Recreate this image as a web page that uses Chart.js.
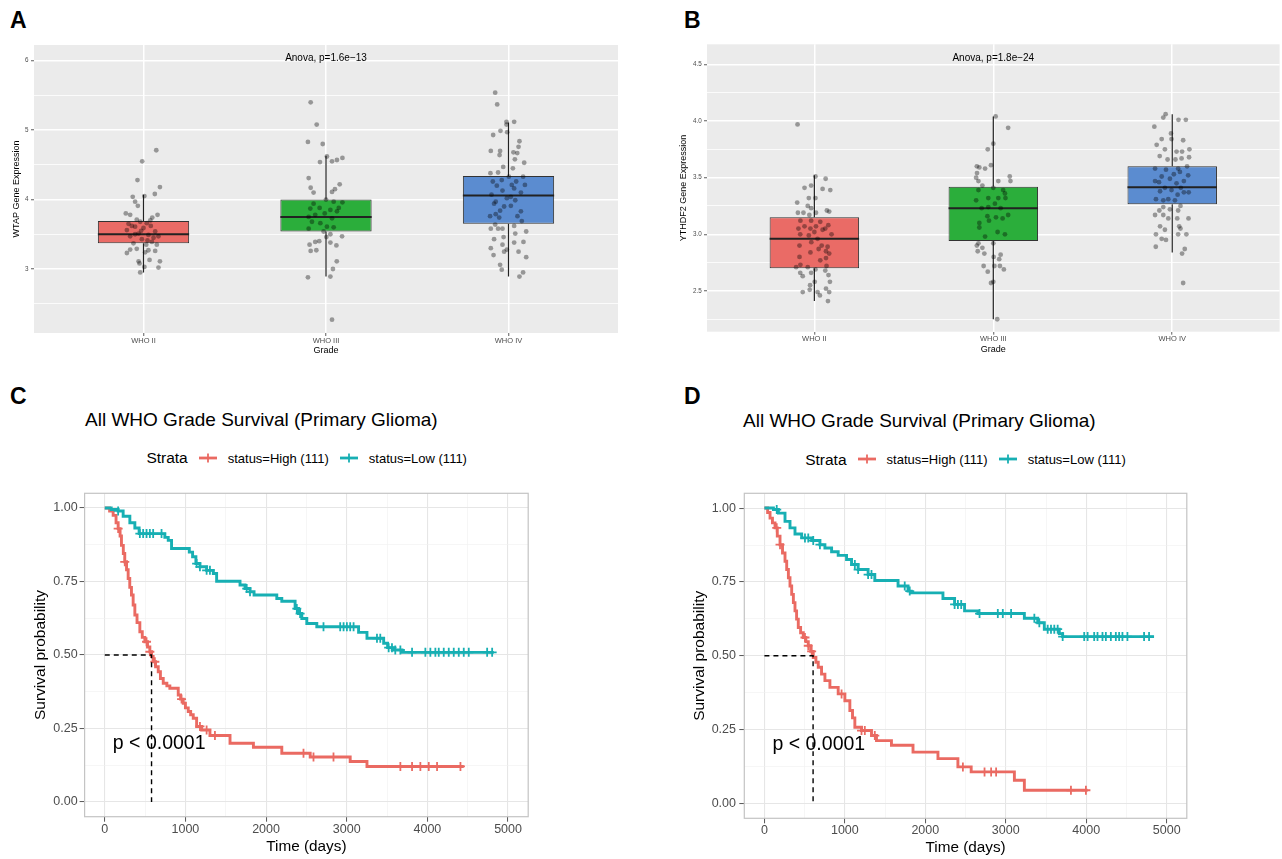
<!DOCTYPE html>
<html>
<head>
<meta charset="utf-8">
<title>WTAP / YTHDF2 expression and survival</title>
<script src="https://cdn.jsdelivr.net/npm/chart.js@4.4.1/dist/chart.umd.min.js"></script>
<style>
  body { margin: 0; width: 1282px; height: 859px; position: relative; background: #fff; overflow: hidden;
         font-family: "Liberation Sans", Arial, sans-serif; }
  canvas { position: absolute; }
  .txt { position: absolute; white-space: nowrap; line-height: 1; color: #000; }
  .letter { font-size: 23px; font-weight: bold; }
  .title { font-size: 19px; }
  .strata { font-size: 15.5px; }
  .item { font-size: 13px; }
  .key { position: absolute; }
</style>
</head>
<body>
<div class="txt letter" style="left:10px;top:9px">A</div>
<div class="txt letter" style="left:684px;top:9px">B</div>
<div class="txt letter" style="left:10px;top:385px">C</div>
<div class="txt letter" style="left:684px;top:385px">D</div>

<div class="txt title" style="left:85px;top:409.6px">All WHO Grade Survival (Primary Glioma)</div>
<div class="txt title" style="left:743px;top:410.9px">All WHO Grade Survival (Primary Glioma)</div>

<!-- legend C -->
<div class="txt strata" style="left:146.4px;top:450.2px">Strata</div>
<svg class="key" style="left:199px;top:452.7px" width="18" height="10"><line x1="0" y1="5" x2="18" y2="5" stroke="#EA6A62" stroke-width="2.8"/><line x1="9" y1="0.5" x2="9" y2="9.5" stroke="#EA6A62" stroke-width="1.8"/></svg>
<div class="txt item" style="left:227.7px;top:451.5px">status=High (111)</div>
<svg class="key" style="left:340px;top:452.7px" width="18" height="10"><line x1="0" y1="5" x2="18" y2="5" stroke="#17AFB3" stroke-width="2.8"/><line x1="9" y1="0.5" x2="9" y2="9.5" stroke="#17AFB3" stroke-width="1.8"/></svg>
<div class="txt item" style="left:368.8px;top:451.5px">status=Low (111)</div>

<!-- legend D -->
<div class="txt strata" style="left:805.2px;top:451.5px">Strata</div>
<svg class="key" style="left:857.5px;top:454px" width="18" height="10"><line x1="0" y1="5" x2="18" y2="5" stroke="#EA6A62" stroke-width="2.8"/><line x1="9" y1="0.5" x2="9" y2="9.5" stroke="#EA6A62" stroke-width="1.8"/></svg>
<div class="txt item" style="left:886.6px;top:452.8px">status=High (111)</div>
<svg class="key" style="left:998.5px;top:454px" width="18" height="10"><line x1="0" y1="5" x2="18" y2="5" stroke="#17AFB3" stroke-width="2.8"/><line x1="9" y1="0.5" x2="9" y2="9.5" stroke="#17AFB3" stroke-width="1.8"/></svg>
<div class="txt item" style="left:1027.7px;top:452.8px">status=Low (111)</div>

<canvas id="chart-a" width="641" height="380" style="left:0;top:0"></canvas>
<canvas id="chart-b" width="641" height="380" style="left:641px;top:0"></canvas>
<canvas id="chart-c" width="641" height="479" style="left:0;top:380px"></canvas>
<canvas id="chart-d" width="641" height="479" style="left:641px;top:380px"></canvas>

<script>
Chart.defaults.font.family = '"Liberation Sans", Arial, sans-serif'
Chart.defaults.animation = false

// Shared categories and colours
const grades = ["WHO II", "WHO III", "WHO IV"]
const boxColors = ["#EA6B66", "#2BAE3B", "#5B8CD0"]
const highColor = "#EA6A62"
const lowColor = "#17AFB3"

// Panel A: WTAP expression by grade
const wtapTicks = [3, 4, 5, 6]
const wtapMinor = [2.5, 3.5, 4.5, 5.5]
const wtapQ1 = [3.37, 3.54, 3.65]
const wtapMedian = [3.50, 3.75, 4.06]
const wtapQ3 = [3.69, 4.00, 4.34]
const wtapLow = [2.95, 2.89, 2.89]
const wtapHigh = [4.07, 4.63, 5.11]
const wtapAnova = "Anova, p=1.6e\u221213"
const wtapII = [4.71, 4.55, 4.28, 4.18, 4.05, 4.04, 4.08, 3.97, 3.91, 3.80, 3.78, 3.78, 3.74, 3.71, 3.68, 3.66, 3.65, 3.62, 3.61, 3.59, 3.56, 3.54, 3.51, 3.49, 3.47, 3.47, 3.43, 3.39, 3.37, 3.35, 3.35, 3.28, 3.29, 3.27, 3.26, 3.23, 3.24, 3.11, 3.08, 3.13, 3.11, 3.03, 3.02, 2.95, 3.62, 3.45, 3.55, 3.41, 3.50, 3.70]
const wtapIIJit = [0.07, -0.007, -0.033, 0.09, 0.005, -0.059, 0.062, -0.046, -0.031, -0.097, -0.073, 0.077, 0.048, -0.037, -0.018, 0.018, -0.082, 0.04, -0.046, 0, -0.091, 0.064, -0.027, 0.027, -0.073, 0.082, -0.009, 0.046, -0.055, 0.015, 0.073, -0.073, -0.037, 0.027, 0.064, -0.091, 0.009, -0.027, -0.022, 0.033, 0.09, 0.005, 0.082, -0.018, -0.064, 0.055, -0.013, 0.022, -0.046, 0.037]
const wtapIII = [5.40, 5.08, 4.83, 4.80, 4.62, 4.54, 4.55, 4.57, 4.60, 4.31, 4.17, 4.10, 4.22, 4.15, 4.11, 4.00, 3.97, 3.96, 3.94, 3.88, 3.87, 3.85, 3.88, 3.83, 3.80, 3.78, 3.75, 3.73, 3.66, 3.68, 3.61, 3.58, 3.60, 3.54, 3.50, 3.46, 3.47, 3.40, 3.38, 3.39, 3.35, 3.34, 3.26, 3.27, 3.11, 3.00, 2.88, 2.89, 2.27]
const wtapIIIJit = [-0.084, -0.051, -0.099, -0.018, 0.005, -0.033, 0.033, 0.06, 0.09, -0.095, -0.084, -0.068, 0.075, 0.049, 0.033, 0, 0.042, 0.09, -0.068, -0.035, -0.086, 0.024, 0.07, 0.06, -0.007, -0.059, -0.095, 0.033, -0.031, -0.077, 0.005, -0.095, 0.042, -0.013, 0.024, 0.002, 0.088, -0.037, 0.024, -0.059, -0.09, 0.057, -0.084, -0.053, 0.059, 0.038, -0.099, 0.024, 0.033]
const wtapIV = [5.54, 5.37, 5.12, 5.12, 5.08, 4.99, 4.97, 4.93, 4.84, 4.76, 4.70, 4.70, 4.68, 4.67, 4.64, 4.58, 4.53, 4.47, 4.45, 4.38, 4.39, 4.33, 4.33, 4.26, 4.28, 4.26, 4.21, 4.21, 4.20, 4.16, 4.13, 4.07, 4.04, 4.10, 4.02, 3.97, 3.99, 3.94, 3.90, 3.91, 3.84, 3.83, 3.79, 3.76, 3.74, 3.76, 3.69, 3.62, 3.64, 3.58, 3.58, 3.54, 3.58, 3.51, 3.46, 3.43, 3.39, 3.38, 3.35, 3.30, 3.28, 3.25, 3.25, 3.20, 3.17, 3.06, 2.99, 2.95, 2.89]
const wtapIVJit = [-0.073, -0.062, -0.011, 0.031, -0.011, -0.044, -0.007, -0.084, 0.06, 0.055, -0.097, -0.046, 0.027, 0.048, -0.049, 0.035, 0.086, -0.029, 0.024, -0.099, -0.057, 0.002, 0.08, -0.086, -0.037, 0.042, 0.018, 0.09, -0.064, 0.031, -0.033, -0.093, 0.013, 0.068, -0.009, -0.07, 0.037, -0.079, -0.024, 0.013, -0.046, 0.068, -0.07, -0.101, -0.051, 0.049, 0.073, 0.031, -0.073, -0.097, -0.033, 0.097, -0.057, 0.037, -0.027, -0.079, 0.082, 0.031, -0.033, -0.097, -0.009, 0.055, -0.024, -0.082, 0.097, -0.046, -0.037, 0.08, 0.06]

// Panel B: YTHDF2 expression by grade
const ythTicks = [2.5, 3.0, 3.5, 4.0, 4.5]
const ythMinor = [2.25, 2.75, 3.25, 3.75, 4.25]
const ythQ1 = [2.70, 2.94, 3.265]
const ythMedian = [2.96, 3.23, 3.415]
const ythQ3 = [3.15, 3.42, 3.60]
const ythLow = [2.41, 2.25, 2.84]
const ythHigh = [3.52, 4.04, 4.06]
const ythAnova = "Anova, p=1.8e\u221224"
const ythII = [3.97, 3.51, 3.49, 3.41, 3.43, 3.40, 3.39, 3.32, 3.32, 3.28, 3.25, 3.23, 3.21, 3.20, 3.19, 3.19, 3.17, 3.19, 3.12, 3.12, 3.11, 3.07, 3.08, 3.07, 3.05, 3.05, 3.05, 3.02, 3.04, 3.00, 3.00, 2.99, 2.96, 2.93, 2.90, 2.90, 2.89, 2.87, 2.85, 2.83, 2.84, 2.80, 2.79, 2.77, 2.73, 2.71, 2.69, 2.72, 2.71, 2.66, 2.63, 2.66, 2.68, 2.64, 2.58, 2.58, 2.55, 2.52, 2.49, 2.49, 2.51, 2.49, 2.46, 2.41]
const ythIIJit = [-0.094, 0.006, 0.063, -0.055, -0.018, 0.046, 0.089, -0.031, 0.006, -0.096, -0.037, -0.018, 0.07, 0.083, -0.092, -0.061, -0.028, 0.009, -0.078, -0.018, 0.033, 0.009, 0.078, -0.055, -0.089, -0.022, 0.061, 0, 0.046, 0.096, -0.079, -0.031, 0.018, -0.017, -0.083, 0.041, 0.074, 0.024, 0.065, 0.083, -0.022, -0.083, 0.065, 0.033, -0.078, -0.037, 0.006, 0.068, -0.102, -0.079, -0.065, -0.018, 0.061, 0.079, 0.002, 0.087, -0.024, 0.065, 0.018, -0.065, -0.026, 0.083, 0.031, 0.076]
const ythIII = [4.04, 3.94, 3.80, 3.75, 3.61, 3.60, 3.58, 3.59, 3.54, 3.50, 3.47, 3.51, 3.47, 3.47, 3.43, 3.41, 3.39, 3.39, 3.36, 3.32, 3.32, 3.32, 3.30, 3.27, 3.24, 3.23, 3.23, 3.17, 3.14, 3.16, 3.15, 3.10, 3.12, 3.02, 3.06, 2.98, 3.00, 2.92, 2.92, 2.90, 2.88, 2.80, 2.82, 2.78, 2.85, 2.83, 2.72, 2.72, 2.72, 2.69, 2.67, 2.58, 2.57, 2.25]
const ythIIIJit = [0.013, 0.083, 0, -0.031, -0.013, -0.092, -0.046, -0.078, -0.091, -0.096, 0.028, 0.092, 0.096, -0.083, -0.061, 0, -0.083, 0.055, 0.065, -0.028, 0.028, 0.068, -0.096, 0.009, -0.028, -0.065, 0.041, 0.083, 0.052, -0.033, 0.015, -0.078, -0.024, 0.024, -0.078, -0.046, 0.065, -0.083, 0, -0.092, -0.061, 0.002, 0.041, 0.033, -0.087, -0.05, 0.037, 0.006, -0.054, 0.059, -0.031, 0, -0.013, 0.022]
const ythIV = [4.06, 4.03, 4.01, 4.01, 3.95, 3.89, 3.84, 3.84, 3.83, 3.79, 3.75, 3.73, 3.73, 3.75, 3.69, 3.66, 3.66, 3.67, 3.68, 3.57, 3.58, 3.58, 3.60, 3.53, 3.55, 3.51, 3.52, 3.49, 3.46, 3.45, 3.47, 3.47, 3.41, 3.41, 3.39, 3.38, 3.37, 3.37, 3.35, 3.31, 3.31, 3.30, 3.30, 3.25, 3.24, 3.21, 3.22, 3.21, 3.17, 3.17, 3.14, 3.14, 3.14, 3.07, 3.07, 3.05, 3.04, 3.00, 3.00, 3.00, 2.96, 2.95, 2.89, 2.87, 2.83, 2.57]
const ythIVJit = [-0.037, -0.05, 0.035, 0.076, -0.1, -0.007, -0.059, -0.004, 0.061, -0.087, -0.041, 0.024, 0.055, 0.096, -0.07, -0.026, 0.018, 0.052, 0.094, -0.035, 0.033, -0.096, 0.083, 0.009, 0.043, -0.059, 0.089, -0.013, -0.074, 0.024, -0.096, 0.065, 0.048, -0.041, -0.004, -0.068, 0.065, 0.092, 0.03, -0.091, -0.022, -0.05, 0.015, 0.046, -0.05, -0.072, -0.013, 0.033, -0.05, -0.096, -0.022, 0.028, 0.091, 0.039, -0.068, 0.046, -0.041, -0.091, 0.079, 0.033, -0.059, -0.035, -0.092, 0.07, 0.055, 0.061]

// Survival panels: axis ticks
const timeTicks = [0, 1000, 2000, 3000, 4000, 5000]
const timeMinor = [500, 1500, 2500, 3500, 4500]
const survTicks = [0, 0.25, 0.5, 0.75, 1]
const survMinor = [0.125, 0.375, 0.625, 0.875]
const pLabel = "p < 0.0001"

// Panel C: Kaplan-Meier steps (time in days, survival after the step)
const cHighTime = [0, 60, 104, 140, 166, 190, 207, 230, 248, 270, 290, 310, 331, 352, 373, 400, 435, 465, 497, 530, 559, 580, 600, 630, 663, 690, 725, 770, 807, 911, 940, 973, 1000, 1035, 1065, 1097, 1139, 1201, 1304, 1553, 1843, 2195, 2547, 3043, 3251, 4451]
const cHighSurv = [1, 0.99, 0.975, 0.95, 0.93, 0.905, 0.873, 0.845, 0.817, 0.79, 0.76, 0.73, 0.704, 0.67, 0.636, 0.61, 0.579, 0.56, 0.545, 0.527, 0.511, 0.495, 0.477, 0.46, 0.443, 0.42, 0.404, 0.395, 0.387, 0.364, 0.35, 0.336, 0.32, 0.308, 0.297, 0.285, 0.257, 0.245, 0.226, 0.2, 0.186, 0.166, 0.153, 0.138, 0.121, 0.121]
const cHighCensor = [166, 248, 518, 559, 621, 952, 1180, 1263, 1366, 2464, 2588, 2836, 3665, 3810, 3913, 4017, 4120, 4410]
const cLowTime = [0, 80, 166, 228, 311, 373, 426, 745, 787, 828, 1048, 1089, 1130, 1180, 1263, 1346, 1387, 1677, 1739, 1801, 1851, 2133, 2195, 2360, 2402, 2443, 2505, 2629, 3147, 3251, 3458, 3507, 3582, 3685, 4824]
const cLowSurv = [1, 0.995, 0.99, 0.972, 0.95, 0.932, 0.913, 0.9, 0.89, 0.862, 0.85, 0.834, 0.811, 0.8, 0.788, 0.777, 0.751, 0.738, 0.726, 0.715, 0.704, 0.692, 0.683, 0.658, 0.641, 0.624, 0.607, 0.596, 0.577, 0.557, 0.54, 0.525, 0.517, 0.509, 0.509]
const cLowCensor = [166, 435, 476, 518, 559, 600, 704, 1139, 1180, 1263, 1304, 1760, 1801, 2381, 2422, 2712, 2919, 2961, 3002, 3043, 3085, 3375, 3416, 3520, 3561, 3602, 3665, 3810, 3975, 4037, 4099, 4141, 4203, 4265, 4327, 4389, 4451, 4513, 4741, 4803]
const cMedianDays = 580

// Panel D
const dHighTime = [0, 40, 70, 100, 132, 160, 194, 225, 256, 277, 298, 318, 339, 360, 380, 400, 421, 450, 483, 515, 545, 575, 607, 640, 669, 710, 752, 814, 917, 1000, 1062, 1095, 1124, 1207, 1331, 1393, 1579, 1847, 2157, 2405, 2570, 3107, 3231, 4017]
const dHighSurv = [1, 0.985, 0.966, 0.95, 0.933, 0.905, 0.876, 0.848, 0.82, 0.792, 0.764, 0.736, 0.708, 0.68, 0.652, 0.624, 0.596, 0.578, 0.562, 0.548, 0.534, 0.515, 0.494, 0.478, 0.461, 0.438, 0.416, 0.393, 0.371, 0.348, 0.315, 0.29, 0.258, 0.247, 0.23, 0.213, 0.197, 0.174, 0.152, 0.124, 0.107, 0.079, 0.045, 0.045]
const dHighCensor = [153, 194, 504, 545, 587, 959, 1207, 1248, 1372, 2467, 2736, 2818, 2880, 3810, 3996]
const dLowTime = [0, 112, 174, 256, 318, 380, 463, 587, 690, 752, 835, 917, 1021, 1083, 1165, 1289, 1372, 1661, 1785, 1826, 2219, 2364, 2488, 2653, 3231, 3397, 3479, 3665, 3707, 4843]
const dLowSurv = [1, 0.995, 0.983, 0.955, 0.933, 0.912, 0.899, 0.89, 0.876, 0.865, 0.852, 0.84, 0.826, 0.809, 0.792, 0.775, 0.755, 0.736, 0.719, 0.713, 0.694, 0.674, 0.652, 0.643, 0.627, 0.612, 0.59, 0.575, 0.565, 0.565]
const dLowCensor = [153, 504, 545, 607, 690, 1124, 1165, 1289, 1331, 1744, 1806, 2364, 2405, 2446, 2674, 2901, 2963, 3066, 3355, 3417, 3521, 3562, 3603, 3645, 3707, 3975, 4017, 4099, 4140, 4202, 4244, 4306, 4368, 4409, 4450, 4512, 4719, 4781]
const dMedianDays = 605

// Plugins
const panelBg = {
  id: "panelBg",
  beforeDraw(chart, args, opts) {
    const { ctx, chartArea: a } = chart
    ctx.save()
    ctx.fillStyle = opts.color
    ctx.fillRect(a.left, a.top, a.width, a.height)
    ctx.restore()
  },
}

const panelBorder = {
  id: "panelBorder",
  afterDatasetsDraw(chart, args, opts) {
    const { ctx, chartArea: a } = chart
    ctx.save()
    ctx.strokeStyle = opts.color
    ctx.lineWidth = 1.2
    ctx.strokeRect(a.left, a.top, a.width, a.height)
    ctx.restore()
  },
}

// whiskers and medians, drawn right after the boxes (dataset 0)
const boxExtras = {
  id: "boxExtras",
  afterDatasetDraw(chart, args, opts) {
    if (args.index !== 0) return
    const { ctx } = chart
    const y = chart.scales.y
    ctx.save()
    ctx.strokeStyle = "#222222"
    args.meta.data.forEach((bar, i) => {
      ctx.lineWidth = 1.2
      ctx.beginPath()
      ctx.moveTo(bar.x, y.getPixelForValue(opts.high[i]))
      ctx.lineTo(bar.x, y.getPixelForValue(opts.q3[i]))
      ctx.moveTo(bar.x, y.getPixelForValue(opts.q1[i]))
      ctx.lineTo(bar.x, y.getPixelForValue(opts.low[i]))
      ctx.stroke()
      const my = y.getPixelForValue(opts.median[i])
      ctx.lineWidth = 2
      ctx.beginPath()
      ctx.moveTo(bar.x - bar.width / 2, my)
      ctx.lineTo(bar.x + bar.width / 2, my)
      ctx.stroke()
    })
    ctx.restore()
  },
}

const noteText = {
  id: "noteText",
  afterDatasetsDraw(chart, args, opts) {
    const { ctx } = chart
    ctx.save()
    ctx.font = opts.font
    ctx.fillStyle = "#000000"
    ctx.textAlign = opts.align
    ctx.textBaseline = "middle"
    ctx.fillText(opts.text, chart.scales.x.getPixelForValue(opts.x), chart.scales.y.getPixelForValue(opts.y))
    ctx.restore()
  },
}

const fontFamily = '"Liberation Sans", Arial, sans-serif'

// Box plot with jittered points
function initBoxChart(id, d) {
  const isMajor = (v) => d.ticks.includes(v)
  const points = d.values.flatMap((vals, g) => vals.map((v, i) => ({ x: g + 1 + d.jitter[g][i], y: v })))

  return new Chart(document.getElementById(id), {
    type: "scatter",
    data: {
      datasets: [
        {
          type: "bar",
          data: grades.map((g, i) => ({ x: i + 1, y: [d.q1[i], d.q3[i]] })),
          backgroundColor: boxColors,
          borderColor: "#333333",
          borderWidth: 1,
          borderSkipped: false,
          categoryPercentage: 1,
          barPercentage: 0.5,
          order: 2,
        },
        {
          data: points,
          pointRadius: 2.4,
          pointHoverRadius: 2.4,
          pointBackgroundColor: "rgba(0,0,0,0.36)",
          pointBorderWidth: 0,
          order: 1,
        },
      ],
    },
    options: {
      responsive: false,
      animation: false,
      layout: { padding: d.padding },
      plugins: {
        legend: { display: false },
        tooltip: { enabled: false },
        panelBg: { color: "#EBEBEB" },
        boxExtras: { q1: d.q1, median: d.median, q3: d.q3, low: d.low, high: d.high },
        noteText: { text: d.note, x: 2, y: d.noteY, font: "10px " + fontFamily, align: "center" },
      },
      scales: {
        x: {
          type: "linear",
          min: 0.4,
          max: 3.6,
          bounds: "data",
          offset: false,
          afterBuildTicks: (s) => { s.ticks = grades.map((g, i) => ({ value: i + 1 })) },
          afterFit: (s) => { s.height = d.xAxisH },
          grid: { offset: false, color: "#FFFFFF", lineWidth: 1.5, tickColor: "#333333", tickLength: 3, tickWidth: 0.8 },
          border: { display: false },
          ticks: { autoSkip: false, maxRotation: 0, padding: 0, color: "#4D4D4D", font: { size: 7.5 }, callback: (v) => grades[v - 1] },
          title: { display: true, text: "Grade", color: "#000000", font: { size: 9 }, padding: { top: 0, bottom: d.xTitlePad } },
        },
        y: {
          type: "linear",
          min: d.min,
          max: d.max,
          bounds: "data",
          afterBuildTicks: (s) => { s.ticks = [...d.minor, ...d.ticks].sort((a, b) => a - b).map((v) => ({ value: v })) },
          afterFit: (s) => { s.width = d.yAxisW },
          grid: {
            color: "#FFFFFF",
            lineWidth: (c) => (c.tick && isMajor(c.tick.value) ? 1.5 : 0.8),
            tickColor: (c) => (c.tick && isMajor(c.tick.value) ? "#333333" : "rgba(0,0,0,0)"),
            tickLength: 3,
            tickWidth: 0.8,
          },
          border: { display: false },
          ticks: { autoSkip: false, padding: d.yTickPad, color: "#4D4D4D", font: { size: 6.3 }, callback: (v) => (isMajor(v) ? d.tickFmt(v) : "") },
          title: { display: true, text: d.yTitle, color: "#000000", font: { size: 9 }, padding: { top: d.yTitlePad, bottom: 0 } },
        },
      },
    },
    plugins: [panelBg, boxExtras, noteText],
  })
}

// Kaplan-Meier plot
function initSurvChart(id, d) {
  const isMajorT = (v) => timeTicks.includes(v)
  const isMajorS = (v) => survTicks.includes(v)
  const stepAt = (t, times, surv) => {
    let s = surv[0]
    times.forEach((v, i) => { if (v <= t) s = surv[i] })
    return s
  }
  const curve = (times, surv, color) => ({
    data: times.map((t, i) => ({ x: t, y: surv[i] })),
    showLine: true,
    stepped: "before",
    borderColor: color,
    borderWidth: 2.9,
    pointRadius: 0,
    pointHoverRadius: 0,
    order: 3,
  })
  const marks = (cens, times, surv, color) => ({
    data: cens.map((t) => ({ x: t, y: stepAt(t, times, surv) })),
    pointStyle: "cross",
    pointRadius: 4.5,
    pointHoverRadius: 4.5,
    pointBorderWidth: 1.8,
    pointBorderColor: color,
    order: 2,
  })

  return new Chart(document.getElementById(id), {
    type: "scatter",
    data: {
      datasets: [
        {
          data: [{ x: 0, y: 0.5 }, { x: d.median, y: 0.5 }, { x: d.median, y: 0 }],
          showLine: true,
          borderColor: "#000000",
          borderWidth: 1.4,
          borderDash: [5, 4],
          pointRadius: 0,
          pointHoverRadius: 0,
          order: 1,
        },
        marks(d.lowCensor, d.lowTime, d.lowSurv, lowColor),
        marks(d.highCensor, d.highTime, d.highSurv, highColor),
        curve(d.lowTime, d.lowSurv, lowColor),
        curve(d.highTime, d.highSurv, highColor),
      ],
    },
    options: {
      responsive: false,
      animation: false,
      layout: { padding: d.padding },
      plugins: {
        legend: { display: false },
        tooltip: { enabled: false },
        panelBorder: { color: "#C4C4C4" },
        noteText: { text: pLabel, x: 100, y: 0.2, font: "19.5px " + fontFamily, align: "left" },
      },
      scales: {
        x: {
          type: "linear",
          min: -250,
          max: 5250,
          bounds: "data",
          afterBuildTicks: (s) => { s.ticks = [...timeTicks, ...timeMinor].sort((a, b) => a - b).map((v) => ({ value: v })) },
          afterFit: (s) => { s.height = d.xAxisH },
          grid: {
            color: (c) => (c.tick && isMajorT(c.tick.value) ? "#E6E6E6" : "#F0F0F0"),
            lineWidth: (c) => (c.tick && isMajorT(c.tick.value) ? 1.1 : 0.6),
            tickColor: (c) => (c.tick && isMajorT(c.tick.value) ? "#555555" : "rgba(0,0,0,0)"),
            tickLength: 5,
            tickWidth: 1,
          },
          border: { display: false },
          ticks: { autoSkip: false, maxRotation: 0, padding: 0, color: "#4D4D4D", font: { size: 12.5 }, callback: (v) => (isMajorT(v) ? String(v) : "") },
          title: { display: true, text: "Time (days)", color: "#000000", font: { size: 15.3 }, padding: { top: 0, bottom: d.xTitlePad } },
        },
        y: {
          type: "linear",
          min: -0.05,
          max: 1.05,
          bounds: "data",
          afterBuildTicks: (s) => { s.ticks = [...survTicks, ...survMinor].sort((a, b) => a - b).map((v) => ({ value: v })) },
          afterFit: (s) => { s.width = d.yAxisW },
          grid: {
            color: (c) => (c.tick && isMajorS(c.tick.value) ? "#E6E6E6" : "#F0F0F0"),
            lineWidth: (c) => (c.tick && isMajorS(c.tick.value) ? 1.1 : 0.6),
            tickColor: (c) => (c.tick && isMajorS(c.tick.value) ? "#555555" : "rgba(0,0,0,0)"),
            tickLength: 5,
            tickWidth: 1,
          },
          border: { display: false },
          ticks: { autoSkip: false, padding: d.yTickPad, color: "#4D4D4D", font: { size: 12.5 }, callback: (v) => (isMajorS(v) ? v.toFixed(2) : "") },
          title: { display: true, text: "Survival probability", color: "#000000", font: { size: 15.5 }, padding: { top: d.yTitlePad, bottom: 0 } },
        },
      },
    },
    plugins: [panelBorder, noteText],
  })
}

initBoxChart("chart-a", {
  q1: wtapQ1, median: wtapMedian, q3: wtapQ3, low: wtapLow, high: wtapHigh,
  values: [wtapII, wtapIII, wtapIV],
  jitter: [wtapIIJit, wtapIIIJit, wtapIVJit],
  ticks: wtapTicks, minor: wtapMinor, tickFmt: (v) => String(v),
  min: 2.078, max: 6.226,
  note: wtapAnova, noteY: 6.03,
  yTitle: "WTAP Gene Expression",
  padding: { left: 0, top: 45, right: 23, bottom: 0 },
  yAxisW: 34, xAxisH: 47, yTickPad: 2.5, yTitlePad: 11, xTitlePad: 23.6,
})

initBoxChart("chart-b", {
  q1: ythQ1, median: ythMedian, q3: ythQ3, low: ythLow, high: ythHigh,
  values: [ythII, ythIII, ythIV],
  jitter: [ythIIJit, ythIIIJit, ythIVJit],
  ticks: ythTicks, minor: ythMinor, tickFmt: (v) => v.toFixed(1),
  min: 2.14, max: 4.677,
  note: ythAnova, noteY: 4.558,
  yTitle: "YTHDF2 Gene Expression",
  padding: { left: 0, top: 44.3, right: 0, bottom: 0 },
  yAxisW: 66, xAxisH: 48.3, yTickPad: 2.3, yTitlePad: 37.6, xTitlePad: 24.6,
})

initSurvChart("chart-c", {
  highTime: cHighTime, highSurv: cHighSurv, highCensor: cHighCensor,
  lowTime: cLowTime, lowSurv: cLowSurv, lowCensor: cLowCensor,
  median: cMedianDays,
  padding: { left: 0, top: 113.3, right: 112.8, bottom: 0 },
  yAxisW: 84.6, xAxisH: 42.3, yTickPad: 1.9, yTitlePad: 31.7, xTitlePad: 3.3,
})

initSurvChart("chart-d", {
  highTime: dHighTime, highSurv: dHighSurv, highCensor: dHighCensor,
  lowTime: dLowTime, lowSurv: dLowSurv, lowCensor: dLowCensor,
  median: dMedianDays,
  padding: { left: 0, top: 113.3, right: 95.2, bottom: 0 },
  yAxisW: 103.3, xAxisH: 40.7, yTickPad: 3.3, yTitlePad: 49, xTitlePad: 1.7,
})
</script>
</body>
</html>
